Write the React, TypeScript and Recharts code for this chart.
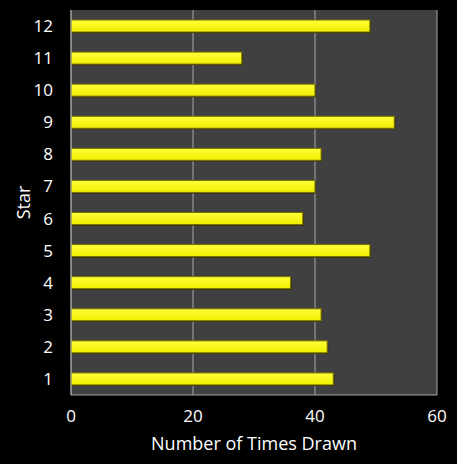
import { BarChart, Bar, XAxis, YAxis, CartesianGrid } from "recharts";

const stars = ["1", "2", "3", "4", "5", "6", "7", "8", "9", "10", "11", "12"];
const timesDrawn = [43, 42, 41, 36, 49, 38, 40, 41, 53, 40, 28, 49];
const xTicks = [0, 20, 40, 60];

const data = stars.map((s, i) => ({ star: s, drawn: timesDrawn[i] }));

const FONT = "'Open Sans', sans-serif";
const TEXT = "#ffffff";
const GRID = "#a6a6a6";

function YellowBar(props: any) {
  const { x, y, width, height } = props;
  if (!width || width <= 0) return null;
  return (
    <g>
      <rect x={x + 1} y={y + 1} width={width} height={height} fill="#2a2800" />
      <rect
        x={x}
        y={y}
        width={width}
        height={height}
        fill="url(#barFill)"
        stroke="#7a7000"
        strokeWidth={1}
      />
    </g>
  );
}

export default function App() {
  return (
    <div
      style={{
        position: "absolute",
        left: 0,
        top: 0,
        width: 457,
        height: 464,
        background: "#000",
        fontFamily: FONT,
      }}
    >
      <BarChart
        width={457}
        height={464}
        data={data}
        layout="vertical"
        margin={{ top: 10, right: 20, bottom: 0, left: 0 }}
        barSize={12}
      >
        <defs>
          <linearGradient id="barFill" x1="0" y1="0" x2="0" y2="1">
            <stop offset="0%" stopColor="#ffff3a" />
            <stop offset="100%" stopColor="#eeee00" />
          </linearGradient>
        </defs>
        <CartesianGrid horizontal={false} fill="#404040" stroke={GRID} strokeWidth={1} />
        <XAxis
          type="number"
          domain={[0, 60]}
          ticks={xTicks}
          axisLine={{ stroke: GRID }}
          tickLine={false}
          tickSize={0}
          tickMargin={15}
          height={69}
          tick={{ fill: TEXT, fontSize: 17, fontFamily: FONT }}
          label={{
            value: "Number of Times Drawn",
            position: "insideBottom",
            offset: 14,
            fill: TEXT,
            fontSize: 18,
            fontFamily: FONT,
          }}
        />
        <YAxis
          type="category"
          dataKey="star"
          reversed
          width={71}
          axisLine={{ stroke: GRID }}
          tickLine={false}
          tickSize={0}
          tickMargin={18}
          tick={{ fill: TEXT, fontSize: 17, fontFamily: FONT }}
          label={{
            value: "Star",
            angle: -90,
            position: "insideLeft",
            offset: 24,
            fill: TEXT,
            fontSize: 18,
            fontFamily: FONT,
            style: { textAnchor: "middle" },
          }}
        />
        <Bar dataKey="drawn" shape={<YellowBar />} isAnimationActive={false} />
      </BarChart>
    </div>
  );
}
